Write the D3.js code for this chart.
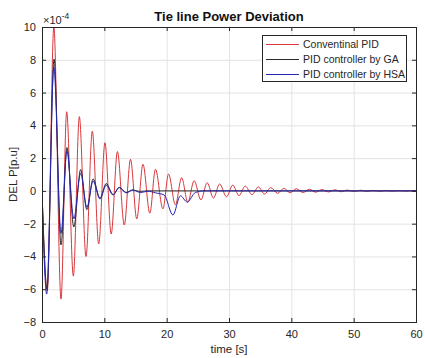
<!DOCTYPE html>
<html>
<head>
<meta charset="utf-8">
<script src="https://cdn.jsdelivr.net/npm/d3@7"></script>
<style>
  html, body { margin: 0; padding: 0; background: #fff; overflow: hidden; }
  svg { display: block; }
</style>
</head>
<body>
<div id="chart"></div>
<script>
// Data (values in units of 1e-4 p.u.)
const xTicks = [0, 10, 20, 30, 40, 50, 60];
const yTicks = [-8, -6, -4, -2, 0, 2, 4, 6, 8, 10];
const seriesNames = ["Conventinal PID", "PID controller by GA", "PID controller by HSA"];

const tConv = [0, 0.85, 1.9, 3.05, 3.96, 5.03, 5.99, 7.06, 8.07, 9.1, 10.1, 11.1, 12.1, 13.2, 14.2, 15.2,
  16.2, 17.3, 18.2, 19.4, 20.3, 21.4, 22.4, 23.4, 24.4, 25.5, 26.5, 27.5, 28.5, 29.6, 30.6, 31.6, 32.6,
  33.7, 34.7, 35.7, 36.7, 37.8, 38.8, 39.8, 40.8, 41.9, 42.9, 43.9, 44.9, 46.0, 47.0, 48.0, 49.0, 50.1,
  51.1, 52.1, 53.1, 54.2, 55.2, 56.2, 57.2, 58.3, 59.3, 60];
const vConv = [0, -6.1, 10, -6.6, 4.83, -5.2, 4.53, -4.0, 3.65, -3.24, 2.94, -2.63, 2.4, -2.08, 1.93, -1.71,
  1.62, -1.36, 1.32, -1.1, 1.03, -0.85, 0.8, -0.7, 0.62, -0.55, 0.5, -0.44, 0.42, -0.36, 0.35, -0.29, 0.29,
  -0.23, 0.24, -0.19, 0.2, -0.15, 0.16, -0.12, 0.13, -0.1, 0.1, -0.08, 0.08, -0.065, 0.065, -0.05, 0.05, -0.04,
  0.04, -0.03, 0.03, -0.025, 0.025, -0.02, 0.02, -0.015, 0.015, 0];

const tGA = [0, 0.8, 1.93, 3.05, 4.0, 5.1, 6.2, 7.2, 8.2, 9.3, 10.3, 11.4, 12.4, 13.5, 14.5, 15.6, 17, 60];
const vGA = [0, -6.0, 8.05, -3.3, 2.65, -2.2, 1.3, -1.15, 0.73, -0.45, 0.45, -0.22, 0.22, -0.1, 0.06, -0.03, 0, 0];

const tHSA = [0, 0.75, 1.9, 3.05, 4.0, 5.1, 6.2, 7.2, 8.2, 9.3, 10.3, 11.4, 12.4, 13.5, 14.6, 15.8, 17.0,
  18.2, 19.6, 21.0, 22.2, 23.3, 24.6, 26, 60];
const vHSA = [0, -6.3, 7.55, -2.6, 2.45, -1.7, 1.07, -1.0, 0.6, -0.5, 0.35, -0.25, 0.2, -0.12, 0.05, -0.1, -0.02,
  -0.12, -0.25, -1.47, -0.3, -0.68, -0.1, 0, 0];

const colors = ["#d8383c", "#2b2b2b", "#2626b4"];

// Layout
const width = 425, height = 358;
const margin = {top: 27, right: 9, bottom: 36, left: 42};
const innerWidth = width - margin.left - margin.right;
const innerHeight = height - margin.top - margin.bottom;
const axisColor = "#262626";
const font = "Liberation Sans, Arial, sans-serif";

const svg = d3.select("#chart")
  .append("svg")
    .attr("width", width)
    .attr("height", height)
    .attr("font-family", font);

const inner = svg.append("g")
  .attr("transform", `translate(${margin.left}, ${margin.top})`);

const xScale = d3.scaleLinear().domain([0, 60]).range([0, innerWidth]);
const yScale = d3.scaleLinear().domain([-8, 10]).range([innerHeight, 0]);

// Grid
inner.append("g")
  .selectAll("line")
  .data(xTicks.slice(1, -1))
  .join("line")
    .attr("x1", d => xScale(d) + 0.5).attr("x2", d => xScale(d) + 0.5)
    .attr("y1", 0).attr("y2", innerHeight)
    .attr("stroke", "#e3e3e3");
inner.append("g")
  .selectAll("line")
  .data(yTicks.slice(1, -1))
  .join("line")
    .attr("y1", d => yScale(d) + 0.5).attr("y2", d => yScale(d) + 0.5)
    .attr("x1", 0).attr("x2", innerWidth)
    .attr("stroke", "#e3e3e3");

// Curves
svg.append("clipPath").attr("id", "clip")
  .append("rect").attr("width", innerWidth).attr("height", innerHeight);

const series = [
  {t: tConv, v: vConv},
  {t: tGA, v: vGA},
  {t: tHSA, v: vHSA}
];
const line = d3.line()
  .x(d => xScale(d[0]))
  .y(d => yScale(d[1]))
  .curve(d3.curveMonotoneX);

inner.append("g")
  .attr("clip-path", "url(#clip)")
  .selectAll("path")
  .data(series)
  .join("path")
    .attr("d", s => line(s.t.map((t, i) => [t, s.v[i]])))
    .attr("fill", "none")
    .attr("stroke", (s, i) => colors[i])
    .attr("stroke-width", 1);

// Axes (ticks inside, box on)
const tick = 4;
const styleAxis = g => {
  g.attr("font-family", font).attr("font-size", 11);
  g.select(".domain").remove();
  g.selectAll(".tick line").attr("stroke", axisColor);
  g.selectAll(".tick text").attr("fill", axisColor);
};
inner.append("g")
  .attr("transform", `translate(0, ${innerHeight})`)
  .call(d3.axisBottom(xScale).tickValues(xTicks).tickSizeInner(-tick).tickSizeOuter(0).tickPadding(8))
  .call(styleAxis);
inner.append("g")
  .call(d3.axisTop(xScale).tickValues(xTicks).tickSizeInner(-tick).tickSizeOuter(0))
  .call(styleAxis)
  .call(g => g.selectAll(".tick text").remove());
inner.append("g")
  .call(d3.axisLeft(yScale).tickValues(yTicks).tickSizeInner(-tick).tickSizeOuter(0).tickPadding(6))
  .call(styleAxis);
inner.append("g")
  .attr("transform", `translate(${innerWidth}, 0)`)
  .call(d3.axisRight(yScale).tickValues(yTicks).tickSizeInner(-tick).tickSizeOuter(0))
  .call(styleAxis)
  .call(g => g.selectAll(".tick text").remove());

inner.append("rect")
  .attr("x", 0.5).attr("y", 0.5)
  .attr("width", innerWidth).attr("height", innerHeight)
  .attr("fill", "none")
  .attr("stroke", axisColor);

// Exponent label
const expo = svg.append("text")
  .attr("x", margin.left + 1)
  .attr("y", 23.5)
  .attr("fill", axisColor)
  .attr("font-size", 11);
expo.append("tspan").text("\u00d710");
expo.append("tspan").attr("dy", -5).attr("font-size", 8.5).text("-4");

// Title and axis labels
svg.append("text")
  .text("Tie line Power Deviation")
  .attr("x", margin.left + innerWidth / 2)
  .attr("y", 20.5)
  .attr("text-anchor", "middle")
  .attr("font-weight", "bold")
  .attr("fill", "#111")
  .attr("font-size", 13);
svg.append("text")
  .text("time [s]")
  .attr("x", margin.left + innerWidth / 2)
  .attr("y", 353)
  .attr("text-anchor", "middle")
  .attr("fill", axisColor)
  .attr("font-size", 11.5);
svg.append("text")
  .text("DEL P[p.u]")
  .attr("transform", `translate(17, ${margin.top + innerHeight / 2}) rotate(-90)`)
  .attr("text-anchor", "middle")
  .attr("fill", axisColor)
  .attr("font-size", 11.5);

// Legend
const legend = svg.append("g").attr("transform", "translate(262, 35)");
legend.append("rect")
  .attr("x", 0.5).attr("y", 0.5)
  .attr("width", 144).attr("height", 46)
  .attr("fill", "#fff")
  .attr("stroke", axisColor);
const items = legend.selectAll("g.item")
  .data(seriesNames)
  .join("g")
    .attr("class", "item")
    .attr("transform", (d, i) => `translate(0, ${9 + i * 15})`);
items.append("line")
  .attr("x1", 4).attr("x2", 37)
  .attr("y1", 0.5).attr("y2", 0.5)
  .attr("stroke", (d, i) => colors[i]);
items.append("text")
  .text(d => d)
  .attr("x", 41)
  .attr("y", 4)
  .attr("fill", axisColor)
  .attr("font-size", 10.5);
</script>
</body>
</html>
